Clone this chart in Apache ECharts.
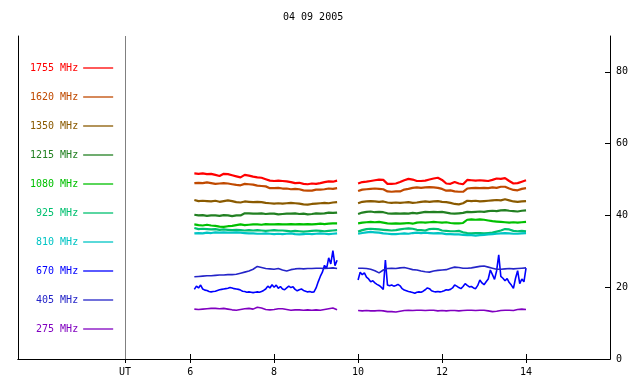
<!DOCTYPE html>
<html>
<head>
    <meta charset="utf-8">
    <title>04 09 2005</title>
    <script src="https://cdn.jsdelivr.net/npm/echarts@6/dist/echarts.min.js"></script>
</head>
<body style="margin:0">
    <div id="main" style="width: 640px;height:384px;"></div>

    <script type="text/javascript">

        // UT hours, 0.1 h steps, 9.75 marks the data gap
        var hours = [
            6.1, 6.2, 6.3, 6.4, 6.5, 6.6, 6.7, 6.8, 6.9, 7.0,
            7.1, 7.2, 7.3, 7.4, 7.5, 7.6, 7.7, 7.8, 7.9, 8.0,
            8.1, 8.2, 8.3, 8.4, 8.5, 8.6, 8.7, 8.8, 8.9, 9.0,
            9.1, 9.2, 9.3, 9.4, 9.5,
            9.75,
            10.0, 10.1, 10.2, 10.3, 10.4, 10.5, 10.6, 10.7, 10.8, 10.9,
            11.0, 11.1, 11.2, 11.3, 11.4, 11.5, 11.6, 11.7, 11.8, 11.9,
            12.0, 12.1, 12.2, 12.3, 12.4, 12.5, 12.6, 12.7, 12.8, 12.9,
            13.0, 13.1, 13.2, 13.3, 13.4, 13.5, 13.6, 13.7, 13.8, 13.9,
            14.0
        ];

        var f1755 = [
            51.7, 51.6, 51.7, 51.5, 51.6, 51.3, 51.0, 51.6, 51.5, 51.2,
            50.9, 50.6, 51.3, 51.1, 50.8, 50.6, 50.5, 50.1, 49.7, 49.6,
            49.7, 49.6, 49.5, 49.3, 49.0, 49.1, 48.8, 48.7, 48.9, 48.8,
            49.0, 49.3, 49.5, 49.4, 49.7,
            null,
            48.9, 49.3, 49.4, 49.6, 49.8, 50.0, 49.9, 48.8, 48.8, 48.9,
            49.3, 49.8, 50.2, 50.0, 49.6, 49.6, 49.7, 50.0, 50.3, 50.5,
            49.9, 48.9, 48.8, 49.3, 48.9, 48.7, 49.9, 49.8, 49.7, 49.8,
            49.7, 49.6, 49.9, 50.3, 50.2, 50.4, 49.6, 48.9, 49.0, 49.4,
            49.8
        ];
        var f1620 = [
            49.0, 49.1, 49.0, 49.2, 49.0, 48.8, 48.9, 49.0, 48.9, 48.7,
            48.5, 48.4, 48.8, 48.7, 48.6, 48.3, 48.2, 48.1, 47.6, 47.6,
            47.7, 47.5, 47.5, 47.3, 47.4, 47.3, 47.0, 46.9, 46.9, 47.2,
            47.2, 47.3, 47.5, 47.4, 47.6,
            null,
            46.8, 47.2, 47.3, 47.4, 47.5, 47.4, 47.3, 46.7, 46.6, 46.7,
            46.7, 47.2, 47.4, 47.7, 47.8, 47.7, 47.8, 47.9, 47.8, 47.7,
            47.4, 46.9, 47.0, 46.7, 46.6, 46.6, 47.5, 47.6, 47.7, 47.6,
            47.7, 47.6, 47.8, 47.7, 48.0, 48.0, 47.5, 47.1, 47.0, 47.4,
            47.6
        ];
        var f1350 = [
            44.3, 44.0, 44.1, 44.0, 43.9, 44.1, 43.8, 44.0, 44.2, 44.0,
            43.7, 43.6, 43.9, 43.8, 43.7, 43.8, 43.7, 43.5, 43.4, 43.3,
            43.4, 43.3, 43.4, 43.5, 43.4, 43.3, 43.1, 43.0, 43.2, 43.3,
            43.4, 43.5, 43.4, 43.6, 43.7,
            null,
            43.4, 43.8, 43.9, 44.0, 43.9, 43.8, 43.9, 43.6, 43.5, 43.6,
            43.5, 43.6, 43.7, 43.5, 43.6, 43.8, 43.9, 43.8, 43.9, 44.0,
            43.8, 43.7, 43.5, 43.2, 43.1, 43.4, 44.1, 44.0, 44.1, 43.9,
            44.0, 44.1, 44.2, 44.3, 44.2, 44.5, 44.2, 43.9, 43.8, 43.9,
            44.0
        ];
        var f1215 = [
            40.2, 40.0, 40.1, 39.9, 40.0, 40.0, 39.9, 40.1, 40.0, 39.8,
            40.0, 40.0, 40.6, 40.6, 40.5, 40.5, 40.6, 40.4, 40.5, 40.5,
            40.3, 40.4, 40.5, 40.5, 40.6, 40.4, 40.5, 40.3, 40.4, 40.6,
            40.5, 40.6, 40.8, 40.7, 40.8,
            null,
            40.4, 40.8, 41.0, 41.1, 40.9, 41.0, 40.9, 40.6, 40.5, 40.6,
            40.5, 40.6, 40.5, 40.7, 40.6, 40.8, 41.0, 40.9, 41.0, 40.9,
            41.0, 40.8, 40.6, 40.5, 40.6, 40.7, 41.0, 40.9, 41.0, 41.1,
            41.0, 41.2, 41.3, 41.2, 41.4, 41.5, 41.3, 41.2, 41.1, 41.3,
            41.4
        ];
        var f1080 = [
            37.5, 37.3, 37.2, 37.4, 37.2, 37.1, 36.9, 36.8, 37.0, 37.1,
            37.3, 37.5, 37.3, 37.4, 37.5, 37.5, 37.4, 37.6, 37.5, 37.5,
            37.6, 37.5, 37.5, 37.6, 37.5, 37.6, 37.5, 37.6, 37.5, 37.6,
            37.7, 37.6, 37.7, 37.8, 37.8,
            null,
            37.8, 38.0, 38.1, 38.2, 38.1, 38.2, 38.0, 37.8, 37.7, 37.8,
            37.7, 37.8, 37.9, 37.7, 38.0, 38.1, 38.0, 38.1, 38.2, 38.1,
            38.0, 38.1, 37.9, 37.8, 37.8, 37.9, 38.8, 38.9, 38.8, 38.9,
            38.8, 38.6, 38.4, 38.3, 38.2, 38.1, 38.0, 38.1, 38.0, 38.1,
            38.2
        ];
        var f925 = [
            36.5, 36.2, 36.3, 36.2, 36.1, 36.2, 36.0, 36.1, 36.0, 35.9,
            36.0, 35.9, 35.8, 35.9, 35.8, 35.9, 35.8, 35.7, 35.8, 35.9,
            35.8, 35.8, 35.7, 35.6, 35.7, 35.6, 35.5, 35.6, 35.7, 35.8,
            35.7, 35.6, 35.7, 35.8, 35.9,
            null,
            35.5, 35.9, 36.2, 36.3, 36.2, 36.1, 36.0, 35.9, 35.8, 35.9,
            36.1, 36.3, 36.4, 36.3, 36.0, 35.9, 35.8, 36.2, 36.3, 36.2,
            35.8, 35.7, 35.6, 35.6, 35.7, 35.3, 35.1, 35.0, 35.1, 35.1,
            35.0, 35.1, 35.2, 35.5, 35.8, 36.2, 36.1, 35.7, 35.6, 35.7,
            35.6
        ];
        var f810 = [
            35.0, 35.1, 35.0, 35.2, 35.1, 35.3, 35.2, 35.3, 35.2, 35.2,
            35.3, 35.2, 35.1, 35.0, 35.0, 34.9, 34.9, 35.0, 34.9, 34.8,
            34.9, 34.8, 34.9, 35.0, 34.8, 34.7, 34.8, 34.9, 34.8, 34.9,
            35.0, 34.9, 34.8, 34.9, 35.0,
            null,
            34.9, 35.1, 35.3, 35.4, 35.3, 35.2, 35.0, 34.9, 34.8, 34.8,
            34.9, 35.0, 34.9, 35.1, 35.2, 35.1, 35.2, 35.1, 35.0, 35.1,
            35.0, 34.8, 34.8, 34.7, 34.7, 34.6, 34.5, 34.5, 34.4, 34.5,
            34.6, 34.7, 34.8, 34.9, 35.0, 35.1, 35.0, 34.9, 34.9, 35.0,
            35.1
        ];
        var f405 = [
            22.9, 23.0, 23.1, 23.2, 23.2, 23.3, 23.4, 23.4, 23.5, 23.5,
            23.6, 23.9, 24.2, 24.5, 25.0, 25.8, 25.5, 25.2, 25.1, 25.0,
            25.2, 24.8, 24.5, 24.9, 25.1, 25.2, 25.1, 25.2, 25.2, 25.3,
            25.3, 25.2, 25.3, 25.4, 25.2,
            null,
            25.3, 25.3, 25.2, 25.0, 24.6, 24.0, 24.8, 25.2, 25.3, 25.2,
            25.4, 25.5, 25.2, 24.9, 24.8, 24.5, 24.3, 24.2, 24.5, 24.7,
            24.8, 24.9, 25.3, 25.6, 25.5, 25.3, 25.3, 25.4, 25.6, 25.8,
            25.9, 25.6, 25.3, 25.0, 25.0, 25.1, 25.2, 25.1, 25.2, 25.3,
            25.4
        ];
        var f275 = [
            13.9, 13.8, 13.9, 14.0, 14.1, 14.1, 14.0, 14.1, 13.9, 13.7,
            13.6, 13.8, 14.0, 14.1, 13.9, 14.4, 14.2, 13.8, 13.7, 13.8,
            14.0, 14.0, 13.8, 13.6, 13.7, 13.7, 13.6, 13.7, 13.6, 13.7,
            13.6, 13.8, 14.0, 14.2, 13.7,
            null,
            13.5, 13.4, 13.5, 13.4, 13.4, 13.5, 13.4, 13.2, 13.2, 13.1,
            13.3, 13.5, 13.6, 13.5, 13.6, 13.6, 13.5, 13.6, 13.6, 13.4,
            13.5, 13.4, 13.5, 13.5, 13.4, 13.5, 13.6, 13.6, 13.5, 13.6,
            13.6, 13.4, 13.2, 13.3, 13.5, 13.6, 13.6, 13.5, 13.8, 13.9,
            13.8
        ];

        // 670 MHz is noisier, read at 0.05 h
        var hours670 = [
            6.1, 6.15, 6.2, 6.25, 6.3, 6.35, 6.4, 6.45, 6.5, 6.55,
            6.6, 6.65, 6.7, 6.75, 6.8, 6.85, 6.9, 6.95, 7.0, 7.05,
            7.1, 7.15, 7.2, 7.25, 7.3, 7.35, 7.4, 7.45, 7.5, 7.55,
            7.6, 7.65, 7.7, 7.75, 7.8, 7.85, 7.9, 7.95, 8.0, 8.05,
            8.1, 8.15, 8.2, 8.25, 8.3, 8.35, 8.4, 8.45, 8.5, 8.55,
            8.6, 8.65, 8.7, 8.75, 8.8, 8.85, 8.9, 8.95, 9.0, 9.05,
            9.1, 9.15, 9.2, 9.25, 9.3, 9.35, 9.4, 9.45, 9.5,
            9.75,
            10.0, 10.05, 10.1, 10.15, 10.2, 10.25, 10.3, 10.35, 10.4, 10.45,
            10.5, 10.55, 10.6, 10.65, 10.7, 10.75, 10.8, 10.85, 10.9, 10.95,
            11.0, 11.05, 11.1, 11.15, 11.2, 11.25, 11.3, 11.35, 11.4, 11.45,
            11.5, 11.55, 11.6, 11.65, 11.7, 11.75, 11.8, 11.85, 11.9, 11.95,
            12.0, 12.05, 12.1, 12.15, 12.2, 12.25, 12.3, 12.35, 12.4, 12.45,
            12.5, 12.55, 12.6, 12.65, 12.7, 12.75, 12.8, 12.85, 12.9, 12.95,
            13.0, 13.05, 13.1, 13.15, 13.2, 13.25, 13.3, 13.35, 13.4, 13.45,
            13.5, 13.55, 13.6, 13.65, 13.7, 13.75, 13.8, 13.85, 13.9, 13.95,
            14.0
        ];
        var f670 = [
            19.4, 20.3, 19.8, 20.6, 19.5, 19.2, 19.1, 18.8, 18.7, 18.8,
            18.9, 19.1, 19.3, 19.4, 19.5, 19.6, 19.7, 19.9, 19.8, 19.6,
            19.5, 19.4, 19.2, 18.9, 18.8, 18.6, 18.7, 18.6, 18.5, 18.6,
            18.7, 18.6, 18.8, 19.1, 19.5, 20.3, 19.8, 20.7, 20.0, 20.6,
            19.7, 20.2, 19.5, 19.3, 19.8, 20.3, 19.9, 20.1, 19.4, 19.0,
            19.3, 19.5, 19.1, 18.9, 18.7, 18.8, 18.6, 18.7, 19.8, 21.5,
            23.0, 24.2, 26.1, 25.2, 28.2, 26.5, 30.2, 26.0, 27.5,
            null,
            22.0, 24.2, 23.5, 24.0, 22.8, 22.3, 21.5, 21.8, 21.2, 20.8,
            20.5, 20.0, 19.4, 27.6, 20.6, 20.4, 20.6, 20.3, 20.5, 20.8,
            20.4, 19.6, 19.2, 19.0, 18.8, 18.7, 18.5, 18.3, 18.6, 18.7,
            18.6, 18.9, 19.3, 19.8, 19.6, 19.0, 18.8, 18.7, 18.8, 18.7,
            18.8, 19.0, 19.3, 19.2, 19.4, 19.8, 20.6, 20.3, 19.9, 19.6,
            20.2, 21.0, 20.5, 20.1, 20.2, 19.8, 19.6, 20.5, 22.0, 21.2,
            20.7, 21.5, 22.3, 24.8, 23.5, 22.2, 24.6, 29.0, 23.0, 22.5,
            21.8, 22.4, 21.3, 20.6, 19.7, 22.5, 24.6, 21.0, 22.3, 21.5,
            25.3
        ];

        var names = ['1755 MHz', '1620 MHz', '1350 MHz', '1215 MHz', '1080 MHz',
                     '925 MHz', '810 MHz', '670 MHz', '405 MHz', '275 MHz'];
        var colors = ['#ff0000', '#c04a00', '#8a5a00', '#228022', '#00c000',
                      '#00c070', '#00c4c4', '#0000ff', '#2424c8', '#8000c0'];
        var values = [f1755, f1620, f1350, f1215, f1080, f925, f810, f670, f405, f275];

        var utHour = 4.45;
        var font = 'DejaVu Sans Mono';

        function pairs(xs, ys) {
            var out = [];
            for (var i = 0; i < xs.length; i++) {
                out.push([xs[i], ys[i]]);
            }
            return out;
        }

        var series = [];
        for (var i = 0; i < names.length; i++) {
            var xs = names[i] === '670 MHz' ? hours670 : hours;
            var s = {
                name: names[i],
                type: 'line',
                data: pairs(xs, values[i]),
                symbol: 'none',
                showSymbol: false,
                connectNulls: false,
                color: colors[i],
                lineStyle: { width: i < 7 ? 2.2 : 1.6, color: colors[i] },
                emphasis: { disabled: true }
            };
            if (i === 0) {
                // UT separator line
                s.markLine = {
                    silent: true,
                    symbol: ['none', 'none'],
                    label: { show: false },
                    lineStyle: { color: '#808080', type: 'solid', width: 1 },
                    data: [{ xAxis: utHour }]
                };
            }
            series.push(s);
        }

        var chart = echarts.init(document.getElementById('main'));

        var option = {
            animation: false,
            backgroundColor: '#ffffff',
            title: {
                text: '04 09 2005',
                left: 283,
                top: 12,
                padding: 0,
                textStyle: { fontFamily: font, fontSize: 10, fontWeight: 'normal', color: '#000' }
            },
            legend: {
                orient: 'vertical',
                left: 30,
                top: 61,
                padding: 0,
                align: 'right',
                icon: 'path://M0,0H30V1.3H0Z',
                itemWidth: 30,
                itemHeight: 1.3,
                itemGap: 15,
                selectedMode: false,
                textStyle: { fontFamily: font, fontSize: 10, lineHeight: 14 },
                data: names.map(function (n, i) {
                    return { name: n, textStyle: { color: colors[i] } };
                })
            },
            grid: { left: 18, right: 30, top: 36, bottom: 25 },
            xAxis: [{
                type: 'value',
                position: 'bottom',
                min: 1.9,
                max: 16,
                axisLine: { lineStyle: { color: '#000', width: 1 } },
                axisTick: { inside: true, length: 5, customValues: [6, 8, 10, 12, 14], lineStyle: { color: '#000' } },
                axisLabel: {
                    customValues: [utHour, 6, 8, 10, 12, 14],
                    formatter: function (v) { return v < 5 ? 'UT' : v; },
                    color: '#000', fontFamily: font, fontSize: 10, margin: 8
                },
                splitLine: { show: false }
            }, {
                type: 'value',
                position: 'top',
                min: 1.9,
                max: 16,
                axisLine: { lineStyle: { color: '#000', width: 1 } },
                axisTick: { inside: true, length: 4, customValues: [utHour, 6, 8, 10, 12, 14], lineStyle: { color: '#000' } },
                axisLabel: { show: false },
                splitLine: { show: false }
            }],
            yAxis: [{
                type: 'value',
                position: 'left',
                min: 0,
                max: 90,
                axisLine: { show: true, lineStyle: { color: '#000', width: 1 } },
                axisTick: { show: false },
                axisLabel: { show: false },
                splitLine: { show: false }
            }, {
                type: 'value',
                position: 'right',
                min: 0,
                max: 90,
                axisLine: { show: true, lineStyle: { color: '#000', width: 1 } },
                axisTick: { inside: true, length: 5, customValues: [20, 40, 60, 80], lineStyle: { color: '#000' } },
                axisLabel: { customValues: [0, 20, 40, 60, 80], color: '#000', fontFamily: font, fontSize: 10, margin: 6 },
                splitLine: { show: false }
            }],
            series: series
        };

        chart.setOption(option);
    </script>
</body>
</html>
